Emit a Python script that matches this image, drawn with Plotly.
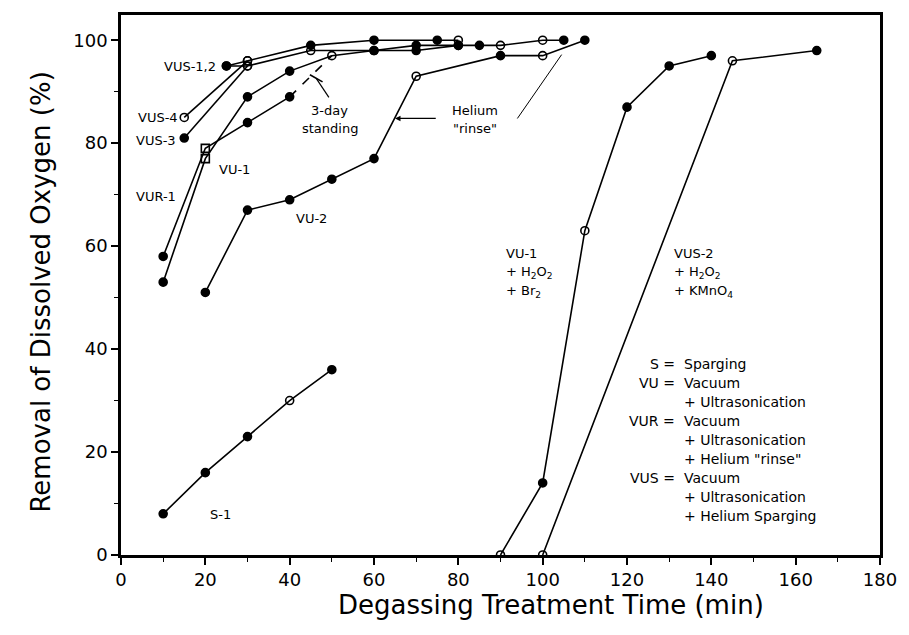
import plotly.graph_objects as go

# ---- data (time in min, removal of dissolved oxygen in %) ----
time_s1 = [10, 20, 30, 40, 50]
rem_s1 = [8, 16, 23, 30, 36]

time_vu2 = [20, 30, 40, 50, 60, 70, 90, 100, 110]
rem_vu2 = [51, 67, 69, 73, 77, 93, 97, 97, 100]

time_vu1 = [10, 20, 30, 40]
rem_vu1 = [58, 79, 84, 89]
time_vu1_stand = [40, 50]
rem_vu1_stand = [89, 97]

time_vur1 = [10, 20, 30, 40, 50, 60, 70, 80]
rem_vur1 = [53, 77, 89, 94, 97, 98, 98, 99]

time_vus3 = [15, 30]
rem_vus3 = [81, 95]
time_vus4 = [15, 30]
rem_vus4 = [85, 96]

time_vus1 = [25, 30, 45, 60, 75, 80]
rem_vus1 = [95, 96, 99, 100, 100, 100]
time_vus2 = [25, 30, 45, 60, 70, 80, 85, 90, 100, 105]
rem_vus2 = [95, 95, 98, 98, 99, 99, 99, 99, 100, 100]

time_vu1_h2o2 = [90, 100, 110, 120, 130, 140]
rem_vu1_h2o2 = [0, 14, 63, 87, 95, 97]
time_vus2_h2o2 = [100, 145, 165]
rem_vus2_h2o2 = [0, 96, 98]

x_ticks = [0, 20, 40, 60, 80, 100, 120, 140, 160, 180]
y_ticks = [0, 20, 40, 60, 80, 100]

FILLED = "circle"
OPEN = "circle-open"
SQ = "square-open"

fig = go.Figure()


def add(x, y, symbols, dash="solid"):
    fig.add_trace(go.Scatter(
        x=x, y=y, mode="lines+markers" if symbols else "lines",
        line=dict(color="black", width=1.6, dash=dash),
        marker=dict(symbol=symbols if symbols else FILLED, size=8, color="black",
                    line=dict(color="black", width=1.6)),
        showlegend=False, hoverinfo="x+y"))


add(time_vu1_stand, rem_vu1_stand, None, dash="dash")
add(time_s1, rem_s1, [FILLED, FILLED, FILLED, OPEN, FILLED])
add(time_vu2, rem_vu2, [FILLED, FILLED, FILLED, FILLED, FILLED, OPEN, FILLED, OPEN, FILLED])
add(time_vu1, rem_vu1, [FILLED, SQ, FILLED, FILLED])
add(time_vur1, rem_vur1, [FILLED, SQ, FILLED, FILLED, OPEN, FILLED, FILLED, FILLED])
add(time_vus3, rem_vus3, [FILLED, OPEN])
add(time_vus4, rem_vus4, [OPEN, OPEN])
add(time_vus1, rem_vus1, [FILLED, OPEN, FILLED, FILLED, FILLED, OPEN])
add(time_vus2, rem_vus2, [FILLED, OPEN, OPEN, FILLED, FILLED, FILLED, FILLED, OPEN, OPEN, FILLED])
add(time_vu1_h2o2, rem_vu1_h2o2, [OPEN, FILLED, OPEN, FILLED, FILLED, FILLED])
add(time_vus2_h2o2, rem_vus2_h2o2, [OPEN, OPEN, FILLED])

FONT = "DejaVu Sans"

annotations = []


def txt(x, y, text, xanchor="center", size=13):
    annotations.append(dict(x=x, y=y, xref="x", yref="y", text=text, showarrow=False,
                            xanchor=xanchor, yanchor="middle",
                            font=dict(family=FONT, size=size, color="black")))


txt(23.0, 94.8, "VUS-1,2", "right")
txt(14.0, 85.0, "VUS-4", "right")
txt(13.5, 80.5, "VUS-3", "right")
txt(27.0, 74.9, "VU-1")
txt(8.3, 69.7, "VUR-1")
txt(45.2, 65.3, "VU-2")
txt(49.5, 86.4, "3-day")
txt(49.5, 82.9, "standing")
txt(84.0, 86.4, "Helium")
txt(84.0, 82.9, "\"rinse\"")
txt(23.5, 7.8, "S-1")

for i, t in enumerate(["VU-1", "+ H<sub>2</sub>O<sub>2</sub>", "+ Br<sub>2</sub>"]):
    txt(90.8, 58.6 - i * 3.75, t, "left")
for i, t in enumerate(["VUS-2", "+ H<sub>2</sub>O<sub>2</sub>", "+ KMnO<sub>4</sub>"]):
    txt(130.7, 58.6 - i * 3.75, t, "left")

legend_rows = [
    ("S =", "Sparging"),
    ("VU =", "Vacuum"),
    ("", "+ Ultrasonication"),
    ("VUR =", "Vacuum"),
    ("", "+ Ultrasonication"),
    ("", "+ Helium \"rinse\""),
    ("VUS =", "Vacuum"),
    ("", "+ Ultrasonication"),
    ("", "+ Helium Sparging"),
]
for i, (left, right) in enumerate(legend_rows):
    yy = 37.1 - i * 3.69
    if left:
        txt(131.9, yy, left, "right", 14)
    txt(133.0, yy, right, "left", 14)

# arrow from "Helium rinse" to the VU-2 curve
annotations.append(dict(x=65.0, y=84.8, xref="x", yref="y", ax=75.0, ay=84.8,
                        axref="x", ayref="y", text="", showarrow=True,
                        arrowhead=2, arrowsize=0.9, arrowwidth=1.2, arrowcolor="black"))

# axis titles
annotations.append(dict(x=0.567, y=-0.092, xref="paper", yref="paper",
                        text="Degassing Treatment Time (min)", showarrow=False,
                        xanchor="center", yanchor="middle",
                        font=dict(family=FONT, size=26, color="black")))
annotations.append(dict(x=-0.106, y=0.487, xref="paper", yref="paper",
                        text="Removal of Dissolved Oxygen (%)", showarrow=False,
                        textangle=-90, xanchor="center", yanchor="middle",
                        font=dict(family=FONT, size=26, color="black")))

line_style = dict(color="black", width=1.2)
shapes = [
    # 3-day standing pointer with crossbar
    dict(type="line", xref="x", yref="y", x0=46.3, y0=92.6, x1=49.3, y1=88.9, line=line_style),
    dict(type="line", xref="x", yref="y", x0=44.8, y0=93.3, x1=47.8, y1=91.9,
         line=dict(color="black", width=1.6)),
    # Helium rinse pointer to VU-2 jump at 100-110 min
    dict(type="line", xref="x", yref="y", x0=94.0, y0=84.8, x1=104.5, y1=97.2,
         line=dict(color="black", width=1.0)),
]

fig.update_layout(
    width=909, height=635,
    margin=dict(l=121, r=22, t=13, b=80),
    paper_bgcolor="white", plot_bgcolor="white",
    annotations=annotations,
    shapes=shapes,
    xaxis=dict(range=[0, 180], tickvals=x_ticks, ticktext=[str(v) for v in x_ticks],
               showgrid=False, zeroline=False, showline=True, mirror=True,
               linecolor="black", linewidth=2.5, ticks="outside", ticklen=7,
               tickwidth=1.5, tickcolor="black",
               minor=dict(dtick=10, ticks="outside", ticklen=4, tickwidth=1.2,
                          tickcolor="black", showgrid=False),
               tickfont=dict(family=FONT, size=18, color="black")),
    yaxis=dict(range=[0, 104.9], tickvals=y_ticks, ticktext=[str(v) for v in y_ticks],
               showgrid=False, zeroline=False, showline=True, mirror=True,
               linecolor="black", linewidth=2.5, ticks="outside", ticklen=7,
               tickwidth=1.5, tickcolor="black",
               minor=dict(dtick=10, ticks="outside", ticklen=4, tickwidth=1.2,
                          tickcolor="black", showgrid=False),
               tickfont=dict(family=FONT, size=18, color="black")),
)

fig.write_html("out.html")
